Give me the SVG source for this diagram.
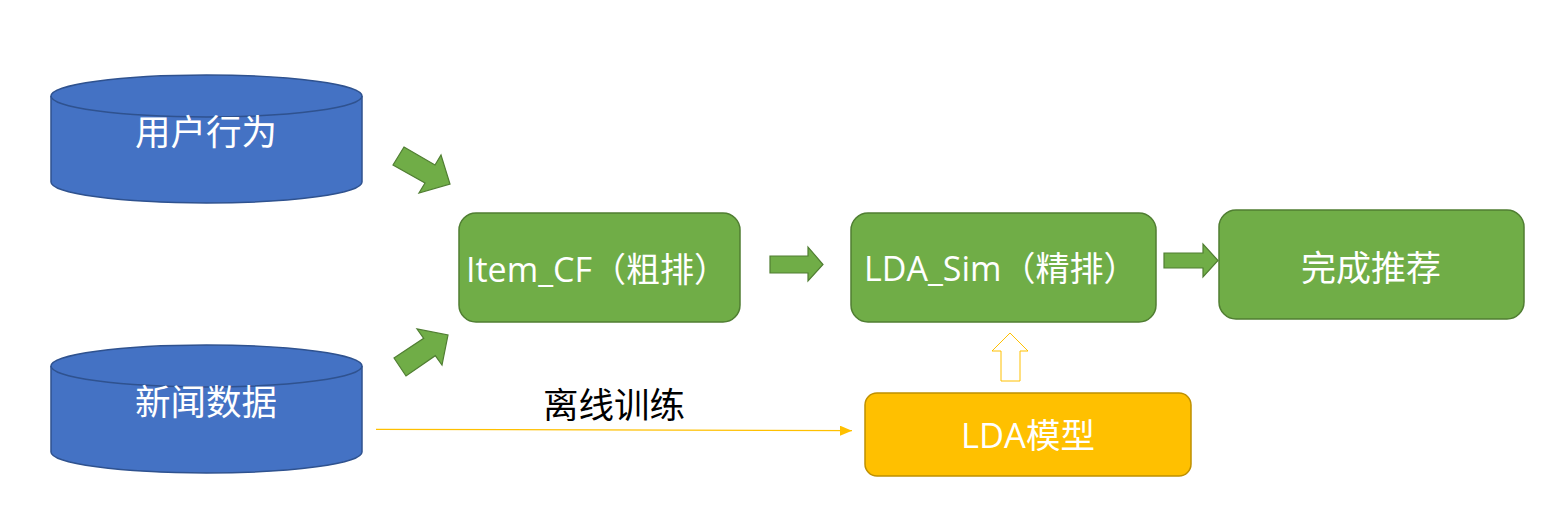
<svg xmlns="http://www.w3.org/2000/svg" width="1552" height="530" viewBox="0 0 1552 530">
<defs>
<style>
.db{fill:#4472C4;stroke:#2F528F;stroke-width:1.5}
.gbox{fill:#70AD47;stroke:#507E32;stroke-width:1.5}
.obox{fill:#FFC000;stroke:#BF9000;stroke-width:1.5}
.garrow{fill:#70AD47;stroke:#507E32;stroke-width:1.2}
.t{font-family:"Open Sans","Noto Sans CJK SC",sans-serif;fill:#FFFFFF}
.tb{font-family:"Noto Sans CJK SC",sans-serif;fill:#000000}
</style>
<marker id="oa" viewBox="0 0 12 10" refX="12" refY="5" markerWidth="12" markerHeight="10" markerUnits="userSpaceOnUse" orient="auto">
<path d="M0,0 L12,5 L0,10 Z" fill="#FFC000"/>
</marker>
</defs>
<rect width="1552" height="530" fill="#FFFFFF"/>

<g id="user-behavior">
<path class="db" d="M51,96 L51,182 A155.5,21 0 0 0 362,182 L362,96"/>
<ellipse class="db" cx="206.5" cy="96" rx="155.5" ry="21"/>
<text class="t" x="206" y="145" font-size="35.5" text-anchor="middle">用户行为</text>
</g>

<g id="news-data">
<path class="db" d="M51,366 L51,452 A155.5,21 0 0 0 362,452 L362,366"/>
<ellipse class="db" cx="206.5" cy="366" rx="155.5" ry="21"/>
<text class="t" x="206" y="415" font-size="35.5" text-anchor="middle">新闻数据</text>
</g>

<g id="item-cf">
<rect class="gbox" x="459" y="213" width="281" height="109" rx="17"/>
<text class="t" x="466" y="282" font-size="34">Item_CF（粗排）</text>
</g>

<g id="lda-sim">
<rect class="gbox" x="851" y="213" width="305" height="109" rx="17"/>
<text class="t" x="864" y="281" font-size="34">LDA_Sim（精排）</text>
</g>

<g id="done">
<rect class="gbox" x="1219" y="210" width="305" height="109" rx="17"/>
<text class="t" x="1371" y="281" font-size="35" text-anchor="middle">完成推荐</text>
</g>

<g id="lda-model">
<rect class="obox" x="865" y="393" width="326" height="83" rx="12"/>
<text class="t" x="1028" y="448" font-size="34.5" text-anchor="middle">LDA模型</text>
</g>

<g id="connectors">
<polygon class="garrow" points="404,147 435,165 441,155 450,184 419,193 425,183 393,165"/>
<polygon class="garrow" points="394,358 423.7,338.3 417,329 448,335 442,365 435.3,355.7 406,376"/>
<polygon class="garrow" points="770,256 808,256 808,247 823,264.5 808,281 808,273 770,273"/>
<polygon class="garrow" points="1164,253 1203,253 1203,244 1218,260.5 1203,277 1203,268 1164,268"/>
<polygon points="1001,381 1001,351 992,351 1010,333 1028,351 1020,351 1020,381" fill="#FFFFFF" stroke="#FFC000" stroke-width="1"/>
<line x1="376" y1="429.3" x2="852" y2="430.7" stroke="#FFC000" stroke-width="1.3" marker-end="url(#oa)"/>
<text class="tb" x="614" y="418" font-size="35.5" text-anchor="middle">离线训练</text>
</g>
</svg>
